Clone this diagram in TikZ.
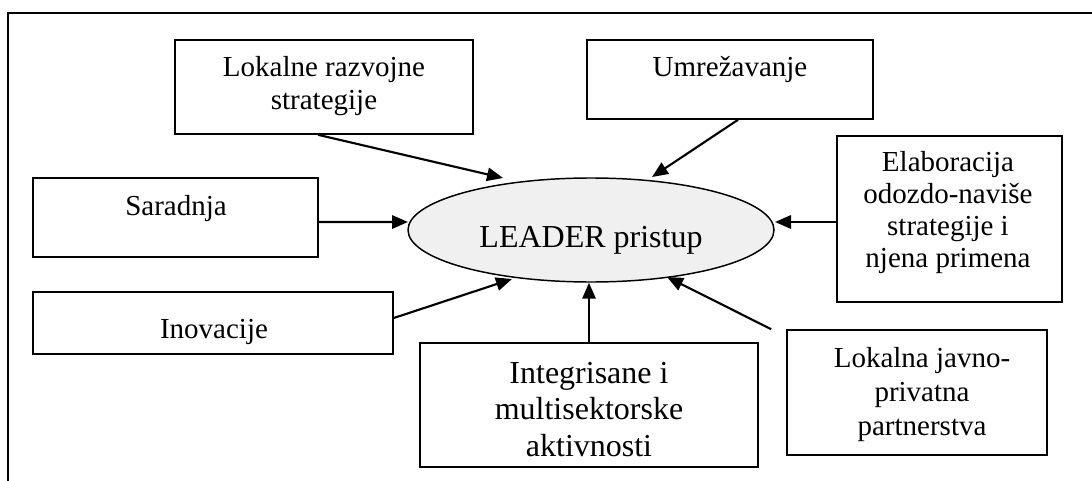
\documentclass[tikz,border=0pt]{standalone}
\usepackage{fontspec}
\setmainfont{Liberation Serif}
\usetikzlibrary{arrows.meta,shapes.geometric}

% stacked centred lines whose baseline is the first line's baseline
\newcommand{\stack}[1]{\begin{tabular}[t]{@{}c@{}}#1\end{tabular}}

\begin{document}
\begin{tikzpicture}[x=0.75pt,y=-0.75pt,
  frame/.style={line width=1.3pt},
  box/.style={draw,rectangle,line width=1.2pt,inner sep=0pt},
  txt/.style={anchor=base,inner sep=0pt,font=\fontsize{21.75}{24.75}\selectfont},
  arr/.style={line width=1.6pt,-{Triangle[length=12pt,width=10pt]}},
  hub/.style={draw,ellipse,line width=1.1pt,fill=black!6,inner sep=0pt,
    minimum width=274.5pt,minimum height=78pt}]

\useasboundingbox (0,0) rectangle (1092,481);

% open frame (top and left sides)
\draw[frame] (8,481) -- (8,13) -- (1092,13);

% central element
\node[hub] (lead) at (591,230) {};
\node[txt,font=\fontsize{24}{27.5}\selectfont] (lead-t) at (591,247) {LEADER pristup};

% surrounding boxes
\node[box,minimum width=223.5pt,minimum height=70.5pt] (lrs) at (324,87) {};
\node[txt] (lrs-t) at (324,77) {\stack{Lokalne razvojne\\strategije}};

\node[box,minimum width=214.5pt,minimum height=59.25pt] (umr) at (730,79.5) {};
\node[txt] (umr-t) at (730,77) {Umrežavanje};

\node[box,minimum width=213.75pt,minimum height=59.25pt] (sar) at (175.5,217.5) {};
\node[txt] (sar-t) at (176,215) {Saradnja};

\node[box,minimum width=270pt,minimum height=46.5pt] (inov) at (213,323) {};
\node[txt] (inov-t) at (214,338) {Inovacije};

\node[box,minimum width=253.5pt,minimum height=93pt] (integ) at (589,405) {};
\node[txt,font=\fontsize{24}{27.5}\selectfont] (integ-t) at (589,383)
  {\stack{Integrisane i\\multisektorske\\aktivnosti}};

\node[box,minimum width=168.75pt,minimum height=124.5pt] (elab) at (949.5,219) {};
\node[txt,font=\fontsize{21.75}{23.75}\selectfont] (elab-t) at (948,172)
  {\stack{Elaboracija\\odozdo-naviše\\strategije i\\njena primena}};

\node[box,minimum width=195pt,minimum height=93.75pt] (ljp) at (917,392.5) {};
\node[txt,font=\fontsize{21.75}{25.5}\selectfont] (ljp-t) at (922,367)
  {\stack{Lokalna javno-\\privatna\\partnerstva}};

% connectors into the central element
\draw[arr] ([xshift=-4.5pt]lrs.south) -- ([shift={(-88,-52)}]lead.center);
\draw[arr] ([xshift=6pt]umr.south) -- ([shift={(61,-53)}]lead.center);
\draw[arr] ([yshift=-3.4pt]sar.east) -- ([shift={(-183,-8)}]lead.center);
\draw[arr] ([yshift=-2.25pt]elab.west) -- ([shift={(184,-8)}]lead.center);
\draw[arr] ([yshift=3.75pt]inov.east) -- ([shift={(-79,49)}]lead.center);
\draw[arr] (integ.north) -- (integ.north |- lead.south);
\draw[arr] ([xshift=-11.25pt]ljp.north west) -- ([shift={(76,47)}]lead.center);

\end{tikzpicture}
\end{document}
